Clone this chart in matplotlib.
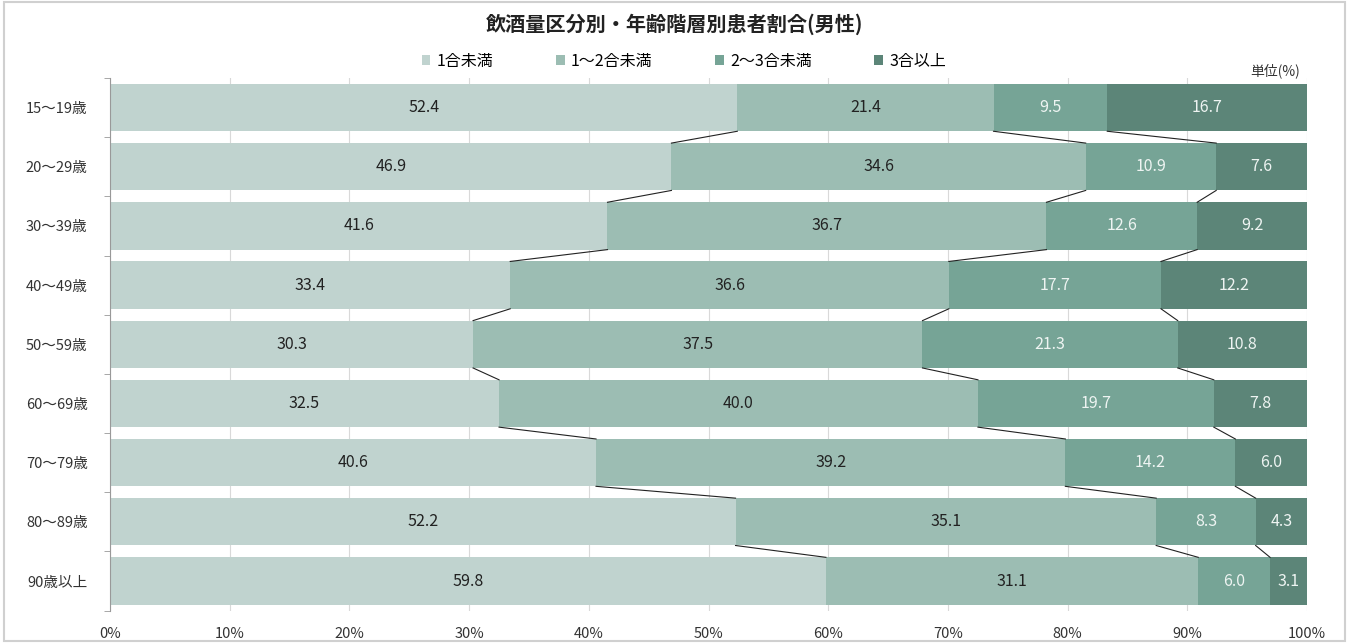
import numpy as np
import matplotlib
matplotlib.use("Agg")
import matplotlib.pyplot as plt
from matplotlib.patches import Rectangle

plt.rcParams['font.family'] = ['Noto Sans CJK JP', 'DejaVu Sans']

ages = ['15～19歳', '20～29歳', '30～39歳', '40～49歳', '50～59歳',
        '60～69歳', '70～79歳', '80～89歳', '90歳以上']
series_names = ['1合未満', '1～2合未満', '2～3合未満', '3合以上']
under1 = [52.4, 46.9, 41.6, 33.4, 30.3, 32.5, 40.6, 52.2, 59.8]
one_two = [21.4, 34.6, 36.7, 36.6, 37.5, 40.0, 39.2, 35.1, 31.1]
two_three = [9.5, 10.9, 12.6, 17.7, 21.3, 19.7, 14.2, 8.3, 6.0]
three_up = [16.7, 7.6, 9.2, 12.2, 10.8, 7.8, 6.0, 4.3, 3.1]

COLORS = ['#c0d3cf', '#9cbdb3', '#76a496', '#5c8578']
TEXT_COLORS = ['#222222', '#222222', '#eef4f2', '#eef4f2']
BAR_H = 0.8

raw = [under1, one_two, two_three, three_up]
data = np.array(raw)
totals = data.sum(axis=0)
data = data / totals * 100  # normalise to 100%
y = np.arange(len(ages))

fig = plt.figure(figsize=(13.49, 6.43), dpi=100)
fig.patches.append(Rectangle((0.003, 0.003), 0.994, 0.994, transform=fig.transFigure,
                             fill=False, edgecolor='#d0d0d0', linewidth=1.5))
ax = fig.add_axes([0.0815, 0.0504, 0.8875, 0.8283])

left = np.zeros(len(ages))
for k in range(4):
    ax.barh(y, data[k], left=left, height=BAR_H, color=COLORS[k], zorder=2,
            label=series_names[k])
    for i in range(len(ages)):
        ax.text(left[i] + data[k][i] / 2, y[i], f'{raw[k][i]:.1f}', ha='center', va='center',
                fontsize=11.5, color=TEXT_COLORS[k], zorder=4)
    left = left + data[k]

# series lines between adjacent bars
cum = np.cumsum(data, axis=0)
for k in range(3):
    for i in range(len(ages) - 1):
        ax.plot([cum[k][i], cum[k][i + 1]], [y[i] + BAR_H / 2, y[i + 1] - BAR_H / 2],
                color='#222222', linewidth=0.8, zorder=3)

ax.set_xlim(0, 100)
ax.set_ylim(len(ages) - 0.5, -0.5)
ax.set_xticks(np.arange(0, 101, 10))
ax.set_xticklabels([f'{v}%' for v in range(0, 101, 10)], fontsize=10.5, color='#333333')
ax.set_yticks(y)
ax.set_yticklabels(ages, fontsize=10.5, color='#333333')
ax.set_yticks(np.arange(-0.5, len(ages), 1), minor=True)
ax.tick_params(axis='y', which='major', length=0, pad=16)
ax.tick_params(axis='y', which='minor', length=4, color='#999999')
ax.tick_params(axis='x', length=0, pad=12)
ax.grid(axis='x', color='#d9d9d9', linewidth=0.8, zorder=0)
ax.set_axisbelow(True)
for s in ['top', 'right', 'bottom']:
    ax.spines[s].set_visible(False)
ax.spines['left'].set_color('#999999')

fig.text(0.5, 0.963, '飲酒量区分別・年齢階層別患者割合(男性)', ha='center', va='center',
         fontsize=14.5, fontweight='bold', color='#222222')
fig.legend(*ax.get_legend_handles_labels(), loc='center', bbox_to_anchor=(0.507, 0.905),
           ncol=4, frameon=False, fontsize=11.5, handlelength=0.55, handleheight=0.55,
           columnspacing=3.9, handletextpad=0.4)
fig.text(0.964, 0.89, '単位(%)', ha='right', va='center', fontsize=10, color='#333333')

fig.savefig('out.png', dpi=100)
plt.close()
